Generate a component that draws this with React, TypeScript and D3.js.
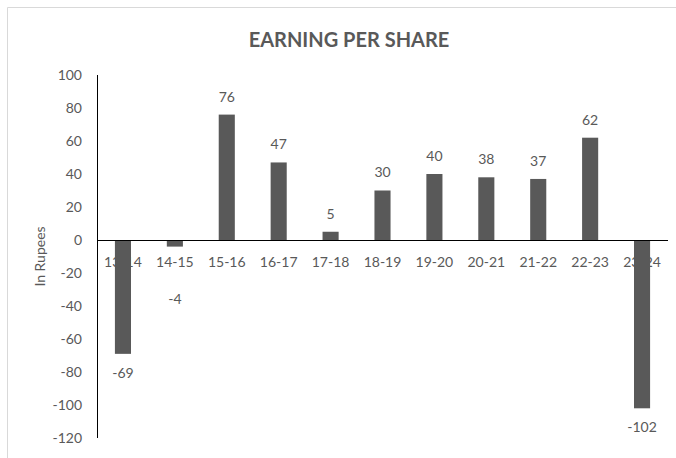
import { useEffect, useRef } from "react";
import * as d3 from "d3";

const categories = ["13-14", "14-15", "15-16", "16-17", "17-18", "18-19", "19-20", "20-21", "21-22", "22-23", "23-24"];
const eps = [-69, -4, 76, 47, 5, 30, 40, 38, 37, 62, -102];
const yTicks = [100, 80, 60, 40, 20, 0, -20, -40, -60, -80, -100, -120];

const font = "Lato, 'Open Sans', sans-serif";
const grey = "#595959";

export default function App() {
  const ref = useRef<SVGSVGElement | null>(null);

  useEffect(() => {
    if (!ref.current) return;
    document.body.style.margin = "0";
    const svg = d3.select(ref.current);
    svg.selectAll("*").remove();

    const width = 676;
    const height = 458;
    const m = { left: 97, right: 668, top: 75, bottom: 438 };

    svg.append("rect").attr("width", width).attr("height", height).attr("fill", "#fff");

    // light border on left and top (chart frame is cropped on the other sides)
    svg
      .append("path")
      .attr("d", `M7.5,${height} V7.5 H${width}`)
      .attr("fill", "none")
      .attr("stroke", "#d9d9d9");

    const x = d3.scaleBand<string>().domain(categories).range([m.left, m.right]).paddingInner(0.69).paddingOuter(0.345);
    const y = d3.scaleLinear().domain([-120, 100]).range([m.bottom, m.top]);

    // title
    svg
      .append("text")
      .attr("x", 349)
      .attr("y", 47)
      .attr("text-anchor", "middle")
      .attr("font-family", font)
      .attr("font-weight", "bold")
      .attr("font-size", 20)
      .attr("fill", grey)
      .text("EARNING PER SHARE");

    // y axis title
    svg
      .append("text")
      .attr("transform", `translate(45,${(m.top + m.bottom) / 2}) rotate(-90)`)
      .attr("text-anchor", "middle")
      .attr("font-family", font)
      .attr("font-size", 14)
      .attr("fill", grey)
      .text("In Rupees");

    // y tick labels
    svg
      .append("g")
      .selectAll("text")
      .data(yTicks)
      .join("text")
      .attr("x", 82)
      .attr("y", (d) => y(d))
      .attr("dy", "0.35em")
      .attr("text-anchor", "end")
      .attr("font-family", font)
      .attr("font-size", 14)
      .attr("fill", grey)
      .text((d) => d);

    // category labels (drawn below bars)
    svg
      .append("g")
      .selectAll("text")
      .data(categories)
      .join("text")
      .attr("x", (d) => x(d)! + x.bandwidth() / 2)
      .attr("y", y(0) + 22)
      .attr("dy", "0.35em")
      .attr("text-anchor", "middle")
      .attr("font-family", font)
      .attr("font-size", 14)
      .attr("fill", grey)
      .text((d) => d);

    // bars
    svg
      .append("g")
      .selectAll("rect")
      .data(eps)
      .join("rect")
      .attr("x", (_, i) => x(categories[i])!)
      .attr("y", (d) => y(Math.max(0, d)))
      .attr("width", x.bandwidth())
      .attr("height", (d) => Math.abs(y(d) - y(0)))
      .attr("fill", grey);

    // value labels; negative ones kept clear of the category row
    svg
      .append("g")
      .selectAll("text")
      .data(eps)
      .join("text")
      .attr("x", (_, i) => x(categories[i])! + x.bandwidth() / 2)
      .attr("y", (d) => (d >= 0 ? y(d) - 18 : Math.max(y(d) + 19, y(0) + 59)))
      .attr("dy", "0.35em")
      .attr("text-anchor", "middle")
      .attr("font-family", font)
      .attr("font-size", 14)
      .attr("fill", grey)
      .text((d) => d);

    // axes lines
    svg
      .append("line")
      .attr("x1", m.left + 0.5)
      .attr("x2", m.left + 0.5)
      .attr("y1", m.top)
      .attr("y2", m.bottom)
      .attr("stroke", "#000");
    svg
      .append("line")
      .attr("x1", m.left)
      .attr("x2", m.right)
      .attr("y1", y(0) + 0.5)
      .attr("y2", y(0) + 0.5)
      .attr("stroke", "#000");
  }, []);

  return <svg ref={ref} width={676} height={458} style={{ display: "block" }} />;
}
